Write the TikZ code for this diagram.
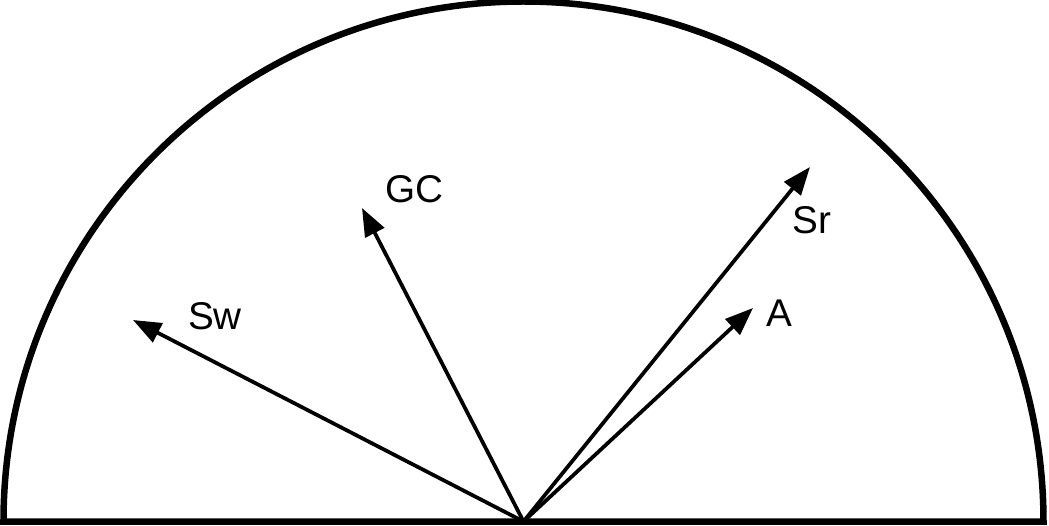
\documentclass[tikz,border=0pt]{standalone}
\usepackage{fontspec}
\setmainfont{Liberation Sans}
\usepackage{tikz}
\usetikzlibrary{arrows.meta}

\begin{document}
\begin{tikzpicture}[
  rim/.style={line width=0.13cm, line join=miter},
  vec/.style={-{Triangle[length=0.56cm, width=0.42cm]}, line width=0.075cm},
  lbl/.style={font=\fontsize{22}{26}\selectfont, inner sep=0pt},
]
\useasboundingbox (-10.47,-0.07) rectangle (10.51,10.43);
\draw[rim] (10.4,0) arc (0:180:10.4) -- cycle;

\coordinate (o) at (0,0);
\coordinate (sw) at (-7.81,4.03);
\coordinate (gc) at (-3.23,6.27);
\coordinate (sr) at (5.73,7.09);
\coordinate (a) at (4.59,4.27);

\node[lbl] (swlbl) at (-6.17,4.11) {Sw};
\node[lbl] (gclbl) at (-2.19,6.65) {GC};
\node[lbl] (srlbl) at (5.77,6.03) {Sr};
\node[lbl] (albl) at (5.11,4.17) {A};

\draw[vec] (o) -- (sw);
\draw[vec] (o) -- (gc);
\draw[vec] (o) -- (sr);
\draw[vec] (o) -- (a);
\end{tikzpicture}
\end{document}
